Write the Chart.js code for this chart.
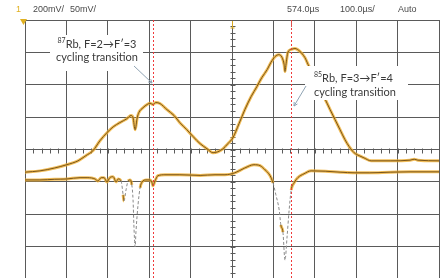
<!DOCTYPE html>
<html><head><meta charset="utf-8">
<script src="https://cdn.jsdelivr.net/npm/chart.js@4"></script>
<style>
html,body{margin:0;padding:0;background:#fff;overflow:hidden;width:443px;height:278px}
#wrap{width:443px;height:290px;position:relative}
canvas{display:block}
</style></head>
<body><div id="wrap"><canvas id="c" width="443" height="290"></canvas></div>
<script>
// Channel 1 (broad Doppler profile), time in µs, amplitude in divisions
const time1 = [0,36,72,101,128,147,164,181,198,213,229,246,256,261,266,271,275,285,295,302,309,316,326,343,360,374,391,406,423,440,454,466,478,490,502,517,531,546,560,572,585,594,604,613,621,626,628,630,635,643,652,664,676,684,696,708,722,737,749,761,773,783,795,807,819,836,882,930,940,949,1000];
const ch1   = [-0.70,-0.66,-0.57,-0.47,-0.35,-0.19,-0.04,0.27,0.52,0.70,0.83,0.95,1.05,0.98,0.61,0.98,1.14,1.29,1.39,1.43,1.39,1.45,1.42,1.23,1.05,0.83,0.61,0.40,0.18,0.02,-0.10,-0.07,0.02,0.18,0.36,0.80,1.23,1.63,1.94,2.22,2.47,2.69,2.87,2.93,2.84,2.62,2.41,2.59,3.00,3.09,3.12,3.03,2.84,2.62,2.31,1.97,1.63,1.23,0.92,0.61,0.30,0.09,-0.10,-0.19,-0.26,-0.35,-0.35,-0.33,-0.30,-0.33,-0.35];
// Channel 2 (saturated absorption, Doppler-free dips)
const time2 = [0,36,72,101,133,152,169,176,184,191,198,205,213,220,225,232,237,239,244,249,254,258,261,263,266,268,273,278,283,292,302,307,309,314,321,338,374,423,459,483,507,531,553,568,580,592,599,606,614,618,623,628,633,638,643,650,659,674,691,725,761,797,833,882,930,1000];
const ch2   = [-0.94,-0.94,-0.92,-0.91,-0.87,-0.87,-0.91,-0.97,-0.87,-0.87,-1.00,-0.87,-0.84,-1.00,-0.91,-0.97,-1.40,-1.59,-1.25,-0.97,-0.94,-1.09,-1.56,-2.33,-3.01,-2.55,-1.71,-1.18,-1.00,-0.94,-0.94,-1.03,-1.12,-0.97,-0.81,-0.78,-0.78,-0.80,-0.78,-0.78,-0.72,-0.57,-0.47,-0.50,-0.63,-0.81,-1.03,-1.40,-1.87,-2.33,-2.55,-3.42,-2.70,-1.87,-1.25,-1.03,-0.87,-0.75,-0.66,-0.67,-0.70,-0.72,-0.72,-0.70,-0.69,-0.69];
// Cycling transition markers (µs)
const markerTimes = [309, 643];
const markerLabels = [["87","Rb, F=2\u2192F\u2032=3","cycling transition"],["85","Rb, F=3\u2192F\u2032=4","cycling transition"]];
const headerLabels = ["200mV/","50mV/","574.0\u00b5s","100.0\u00b5s/","Auto"];

const toXY = (t, v) => t.map((x, i) => ({x, y: v[i]}));
const steep = c => Math.abs(c.p1.parsed.y - c.p0.parsed.y) > 0.25 && Math.min(c.p0.parsed.y, c.p1.parsed.y) < -1.05;

const HALO = 'rgba(238,172,48,0.8)';
const CORE = '#7a5518';

const overlay = {
  id: 'overlay',
  beforeDatasetsDraw(chart) {
    const {ctx, scales: {x, y}} = chart;
    ctx.save();
    ctx.strokeStyle = '#5a5a5a'; ctx.lineWidth = 1;
    const cx = Math.round(x.getPixelForValue(500)) + 0.5;
    const cy = Math.round(y.getPixelForValue(0)) + 0.5;
    ctx.beginPath();
    for (let i = -20; i <= 20; i++) {
      const py = Math.round(y.getPixelForValue(i * 0.2)) + 0.5;
      ctx.moveTo(cx - 2, py); ctx.lineTo(cx + 3, py);
    }
    for (let i = 0; i <= 50; i++) {
      const px = Math.round(x.getPixelForValue(i * 20)) + 0.5;
      ctx.moveTo(px, cy - 2); ctx.lineTo(px, cy + 3);
    }
    ctx.stroke();
    ctx.restore();
  },
  afterDatasetsDraw(chart) {
    const {ctx, scales: {x, y}, chartArea: a} = chart;
    ctx.save();
    // red dotted marker lines
    ctx.strokeStyle = '#f03a3a'; ctx.lineWidth = 1; ctx.setLineDash([2, 2]);
    markerTimes.forEach(t => {
      const px = Math.round(x.getPixelForValue(t)) + 0.5;
      ctx.beginPath(); ctx.moveTo(px, a.top); ctx.lineTo(px, a.bottom); ctx.stroke();
    });
    ctx.setLineDash([]);
    // label boxes
    const boxes = [
      {x0: 50, y0: 35, x1: 143, y1: 71, tx: 97, align: 'center', ly: [44, 57]},
      {x0: 305, y0: 66, x1: 408, y1: 100, tx: 314, align: 'left', ly: [78, 92]}
    ];
    boxes.forEach((b, i) => {
      ctx.fillStyle = '#fff';
      ctx.fillRect(b.x0, b.y0, b.x1 - b.x0, b.y1 - b.y0);
      const lab = markerLabels[i];
      ctx.fillStyle = '#3a3a3a';
      ctx.textBaseline = 'middle';
      ctx.font = '11px Lato, "Open Sans", sans-serif';
      const mainW = ctx.measureText(lab[1]).width;
      ctx.font = '7px Lato, "Open Sans", sans-serif';
      const supW = ctx.measureText(lab[0]).width;
      let sx = b.align === 'center' ? b.tx - (mainW + supW) / 2 : b.tx;
      ctx.textAlign = 'left';
      ctx.fillText(lab[0], sx, b.ly[0] - 3);
      ctx.font = '11px Lato, "Open Sans", sans-serif';
      ctx.fillText(lab[1], sx + supW, b.ly[0]);
      ctx.textAlign = b.align;
      ctx.fillText(lab[2], b.tx, b.ly[1]);
    });
    // arrows
    ctx.strokeStyle = '#8fa3b3'; ctx.lineWidth = 1;
    const arrows = [[134, 66, 152, 83], [306, 86, 294, 106]];
    arrows.forEach(([x0, y0, x1, y1]) => {
      ctx.beginPath(); ctx.moveTo(x0, y0); ctx.lineTo(x1, y1); ctx.stroke();
      const ang = Math.atan2(y1 - y0, x1 - x0);
      ctx.beginPath();
      ctx.moveTo(x1, y1);
      ctx.lineTo(x1 - 4 * Math.cos(ang - 0.5), y1 - 4 * Math.sin(ang - 0.5));
      ctx.moveTo(x1, y1);
      ctx.lineTo(x1 - 4 * Math.cos(ang + 0.5), y1 - 4 * Math.sin(ang + 0.5));
      ctx.stroke();
    });
    // header
    ctx.fillStyle = '#4a4a4a';
    ctx.font = '9px "Liberation Sans", Arial, sans-serif';
    ctx.textAlign = 'left'; ctx.textBaseline = 'middle';
    const hx = [33, 70, 287, 340, 398];
    headerLabels.forEach((s, i) => ctx.fillText(s, hx[i], 10));
    // channel / trigger markers
    ctx.fillStyle = '#e0b020';
    ctx.font = '9px "Liberation Sans", sans-serif';
    ctx.fillText('1', 16, 10);
    ctx.beginPath(); ctx.moveTo(20, 19); ctx.lineTo(27, 19); ctx.lineTo(23.5, 25); ctx.closePath(); ctx.fill();
    ctx.strokeStyle = '#d8a820';
    const tx = Math.round(x.getPixelForValue(500)) + 0.5;
    ctx.beginPath(); ctx.moveTo(tx, a.top + 1); ctx.lineTo(tx, a.top + 8); ctx.moveTo(tx - 2, a.top + 8); ctx.lineTo(tx + 2, a.top + 8); ctx.stroke();
    ctx.strokeStyle = '#e0504a';
    const rx = Math.round(x.getPixelForValue(markerTimes[1])) + 0.5;
    ctx.beginPath(); ctx.moveTo(rx, a.top + 1); ctx.lineTo(rx, a.top + 7); ctx.stroke();
    ctx.restore();
  }
};

new Chart(document.getElementById('c'), {
  type: 'line',
  data: {
    datasets: [
      {data: toXY(time1, ch1), borderColor: HALO, borderWidth: 3, order: 2},
      {data: toXY(time2, ch2), borderColor: HALO, borderWidth: 3, order: 2,
        segment: {borderColor: c => steep(c) ? 'rgba(0,0,0,0)' : undefined}},
      {data: toXY(time1, ch1), borderColor: CORE, borderWidth: 1, order: 1},
      {data: toXY(time2, ch2), borderColor: CORE, borderWidth: 1, order: 1,
        segment: {borderColor: c => steep(c) ? '#8a8a8a' : undefined, borderDash: c => steep(c) ? [3, 2] : undefined}}
    ]
  },
  options: {
    responsive: false,
    animation: false,
    devicePixelRatio: 1,
    parsing: false,
    elements: {point: {radius: 0}, line: {cubicInterpolationMode: 'monotone', fill: false}},
    layout: {padding: {left: 25, right: 4, top: 20, bottom: 11}},
    plugins: {legend: {display: false}, tooltip: {enabled: false}},
    scales: {
      x: {type: 'linear', min: 0, max: 1000,
        ticks: {display: false, stepSize: 100},
        grid: {color: '#5a5a5a', lineWidth: 1, drawTicks: false},
        border: {display: true, color: '#5a5a5a'}},
      y: {type: 'linear', min: -4, max: 4,
        ticks: {display: false, stepSize: 1},
        grid: {color: '#5a5a5a', lineWidth: 1, drawTicks: false},
        border: {display: true, color: '#5a5a5a'}}
    }
  },
  plugins: [overlay]
});
</script>
</body></html>
